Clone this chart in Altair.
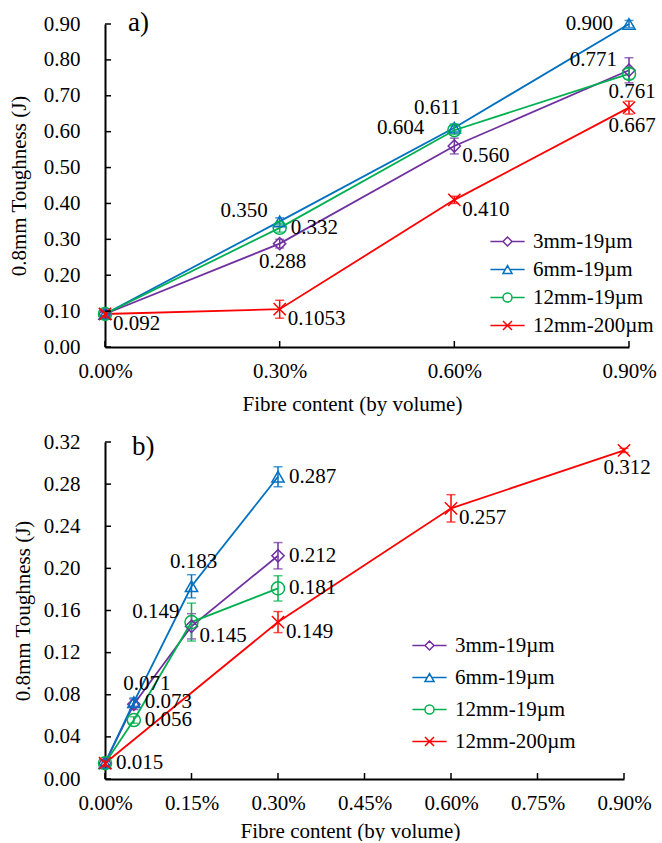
import altair as alt
import pandas as pd

FONT = "Liberation Serif"

series = ["3mm-19µm", "6mm-19µm", "12mm-19µm", "12mm-200µm"]
colors = ["#7030A0", "#0070C0", "#00B050", "#FF0000"]
panel_labels = ["a)", "b)"]

# ---------------- chart a) ----------------
a_x = [0.0, 0.3, 0.6, 0.9]
a_3mm = [0.092, 0.288, 0.560, 0.771]
a_6mm = [0.092, 0.350, 0.611, 0.900]
a_12mm = [0.092, 0.332, 0.604, 0.761]
a_200 = [0.092, 0.1053, 0.410, 0.667]
a_err_3mm = [0.008, 0.012, 0.022, 0.035]
a_err_6mm = [0.006, 0.010, 0.010, 0.010]
a_err_12mm = [0.006, 0.012, 0.012, 0.015]
a_err_200 = [0.010, 0.025, 0.010, 0.018]
a_lab_3mm = ["", "0.288", "0.560", "0.771"]
a_lab_6mm = ["", "0.350", "0.611", "0.900"]
a_lab_12mm = ["", "0.332", "0.604", "0.761"]
a_lab_200 = ["0.092", "0.1053", "0.410", "0.667"]
a_pos_3mm = ["", "B", "RB", "LA"]
a_pos_6mm = ["", "LA", "AL", "L"]
a_pos_12mm = ["", "R", "LL", "B"]
a_pos_200 = ["RB", "RB", "RB", "B"]
a_xticks = [0.0, 0.3, 0.6, 0.9]
a_yticks = [0.0, 0.1, 0.2, 0.3, 0.4, 0.5, 0.6, 0.7, 0.8, 0.9]

# ---------------- chart b) ----------------
b_x_19 = [0.0, 0.05, 0.15, 0.3]
b_x_200 = [0.0, 0.3, 0.6, 0.9]
b_3mm = [0.015, 0.071, 0.145, 0.212]
b_6mm = [0.015, 0.073, 0.183, 0.287]
b_12mm = [0.015, 0.056, 0.149, 0.181]
b_200 = [0.015, 0.149, 0.257, 0.312]
b_err_3mm = [0.003, 0.005, 0.012, 0.0125]
b_err_6mm = [0.003, 0.004, 0.011, 0.0095]
b_err_12mm = [0.003, 0.003, 0.018, 0.012]
b_err_200 = [0.003, 0.010, 0.013, 0.002]
b_lab_3mm = ["", "0.071", "0.145", "0.212"]
b_lab_6mm = ["", "0.073", "0.183", "0.287"]
b_lab_12mm = ["", "0.056", "0.149", "0.181"]
b_lab_200 = ["0.015", "0.149", "0.257", "0.312"]
b_pos_3mm = ["", "AR", "RB", "R"]
b_pos_6mm = ["", "R", "A", "R"]
b_pos_12mm = ["", "R", "LA", "R"]
b_pos_200 = ["R", "RB", "RB", "B"]
b_xticks = [0.0, 0.15, 0.3, 0.45, 0.6, 0.75, 0.9]
b_yticks = [0.0, 0.04, 0.08, 0.12, 0.16, 0.20, 0.24, 0.28, 0.32]

# label placements: (dx, dy, align)
PLACE = {
    "R": (11, 0, "left"),
    "RB": (8, 10, "left"),
    "B": (3, 18, "center"),
    "LA": (-12, -10, "right"),
    "AL": (-17, -20, "center"),
    "AR": (13, -20, "center"),
    "A": (2, -24, "center"),
    "L": (-16, 0, "right"),
    "LL": (-30, -2, "right"),
}

marker_shapes = ["diamond", "triangle-up", "circle", "M-1,-1L1,1M-1,1L1,-1"]
legend_shapes = [
    "M-3.8,0H-1M-1,0L0,-1L1,0L0,1ZM1,0H3.8",
    "M-3.8,0H-0.5M0,-0.866L-1,0.866L1,0.866ZM0.5,0H3.8",
    "M-3.8,0H-1M1,0A1,1,0,1,1,-1,0A1,1,0,1,1,1,0M1,0H3.8",
    "M-3.8,0H3.8M-1,-1L1,1M-1,1L1,-1",
]


def make_df(xs_list, vals, errs, labs, poss):
    rows = []
    for s, xs, v, e, l, p in zip(series, xs_list, vals, errs, labs, poss):
        for xi, vi, ei, li, pi in zip(xs, v, e, l, p):
            rows.append({"series": s, "x": xi, "y": vi, "lo": vi - ei,
                         "hi": vi + ei, "label": li, "pos": pi})
    return pd.DataFrame(rows)


def panel(df, xticks, yticks, ydom, W, H, plabel, pl_x, pl_y,
          lp_y, tp_y, tp_x, title_x, legx, legy, legpad):
    xscale = alt.Scale(domain=[0, 0.9], nice=False, zero=False)
    yscale = alt.Scale(domain=ydom, nice=False)
    xaxis = alt.Axis(values=xticks, labelExpr="format(datum.value, '.2f') + '%'",
                     ticks=False, tickSize=0, labelPadding=13, titlePadding=tp_x,
                     titleX=title_x, grid=False, labelFlush=False, labelOverlap=False)
    yaxis = alt.Axis(values=yticks, format=".2f", ticks=False, tickSize=0,
                     labelPadding=lp_y, titlePadding=tp_y, grid=False,
                     labelFlush=False, labelOverlap=False)
    xt = "Fibre content (by volume)"
    yt = "0.8mm Toughness (J)"

    def X(f):
        return alt.X(f + ":Q", scale=xscale, axis=xaxis, title=xt)

    def Y(f):
        return alt.Y(f + ":Q", scale=yscale, axis=yaxis, title=yt)

    cscale = alt.Scale(domain=series, range=colors)
    base = alt.Chart(df)

    layers = []
    # legend layer first (invisible marks, visible legend)
    leg = alt.Legend(orient="none", legendX=legx, legendY=legy, title=None,
                     labelFont=FONT, labelFontSize=21, labelColor="black",
                     symbolSize=81, symbolStrokeWidth=1.5, labelOffset=15,
                     rowPadding=legpad, symbolOpacity=1)
    layers.append(base.mark_point(
        filled=False, size=81, strokeWidth=1.5, opacity=0).encode(
        x=X("x"), y=Y("y"),
        color=alt.Color("series:N", scale=cscale, legend=leg),
        shape=alt.Shape("series:N", scale=alt.Scale(domain=series, range=legend_shapes),
                        legend=leg)))

    for s, c in zip(series, colors):
        sb = base.transform_filter(alt.datum.series == s)
        layers.append(sb.mark_line(strokeWidth=1.8, color=c).encode(
            x=X("x"), y=Y("y"), order="x:Q"))
        layers.append(sb.mark_rule(strokeWidth=1.5, color=c).encode(
            x=X("x"), y=Y("lo"), y2="hi"))
        layers.append(sb.mark_tick(orient="horizontal", size=9, thickness=1.5,
                                   color=c).encode(x=X("x"), y=Y("lo")))
        layers.append(sb.mark_tick(orient="horizontal", size=9, thickness=1.5,
                                   color=c).encode(x=X("x"), y=Y("hi")))
    for s, shp, c in zip(series, marker_shapes, colors):
        size = 170 if shp == "circle" else 150
        layers.append(base.transform_filter(alt.datum.series == s).mark_point(
            shape=shp, size=size, filled=False, strokeWidth=1.5, color=c, opacity=1
        ).encode(x=X("x"), y=Y("y")))
    for key, (dx, dy, al) in PLACE.items():
        layers.append(base.transform_filter(alt.datum.pos == key).mark_text(
            font=FONT, fontSize=21, color="black", dx=dx, dy=dy, align=al,
            baseline="middle"
        ).encode(x=X("x"), y=Y("y"), text="label:N"))

    # inward ticks
    yt_df = pd.DataFrame({"v": yticks})
    xt_df = pd.DataFrame({"v": xticks})
    layers.append(alt.Chart(yt_df).mark_rule(color="black", strokeWidth=1.5).encode(
        y=Y("v"), x=alt.value(0), x2=alt.value(6)))
    layers.append(alt.Chart(xt_df).mark_rule(color="black", strokeWidth=1.5).encode(
        x=X("v"), y=alt.value(H), y2=alt.value(H - 6)))

    # panel label a) / b)
    layers.append(alt.Chart(pd.DataFrame({"t": [plabel]})).mark_text(
        font=FONT, fontSize=27, color="black", align="left", baseline="middle"
    ).encode(text="t:N", x=alt.value(pl_x), y=alt.value(pl_y)))

    return alt.layer(*layers).properties(width=W, height=H)


df_a = make_df([a_x] * 4, [a_3mm, a_6mm, a_12mm, a_200],
               [a_err_3mm, a_err_6mm, a_err_12mm, a_err_200],
               [a_lab_3mm, a_lab_6mm, a_lab_12mm, a_lab_200],
               [a_pos_3mm, a_pos_6mm, a_pos_12mm, a_pos_200])
df_b = make_df([b_x_19, b_x_19, b_x_19, b_x_200], [b_3mm, b_6mm, b_12mm, b_200],
               [b_err_3mm, b_err_6mm, b_err_12mm, b_err_200],
               [b_lab_3mm, b_lab_6mm, b_lab_12mm, b_lab_200],
               [b_pos_3mm, b_pos_6mm, b_pos_12mm, b_pos_200])

top = panel(df_a, a_xticks, a_yticks, [0, 0.9], 524, 323, panel_labels[0], 23, -1,
            25, 14, 12, 247, 392, 207, 6)
bottom = panel(df_b, b_xticks, b_yticks, [0, 0.32], 519, 337, panel_labels[1], 27, 5,
               25, 10, 7, 245, 314, 193, 10)

chart = alt.vconcat(top, bottom, spacing=17).resolve_scale(
    color="independent", shape="independent", x="independent", y="independent"
).resolve_legend(color="independent", shape="independent").properties(
    padding={"left": 8, "top": 9, "right": 0, "bottom": 0},
    background="white"
).configure_view(stroke=None).configure_axis(
    domainColor="black", domainWidth=2, labelFont=FONT, labelFontSize=21,
    labelColor="black", titleFont=FONT, titleFontSize=21, titleFontWeight="normal",
    titleColor="black"
)

chart.save("out.html", embed_options={"renderer": "svg", "actions": False})
